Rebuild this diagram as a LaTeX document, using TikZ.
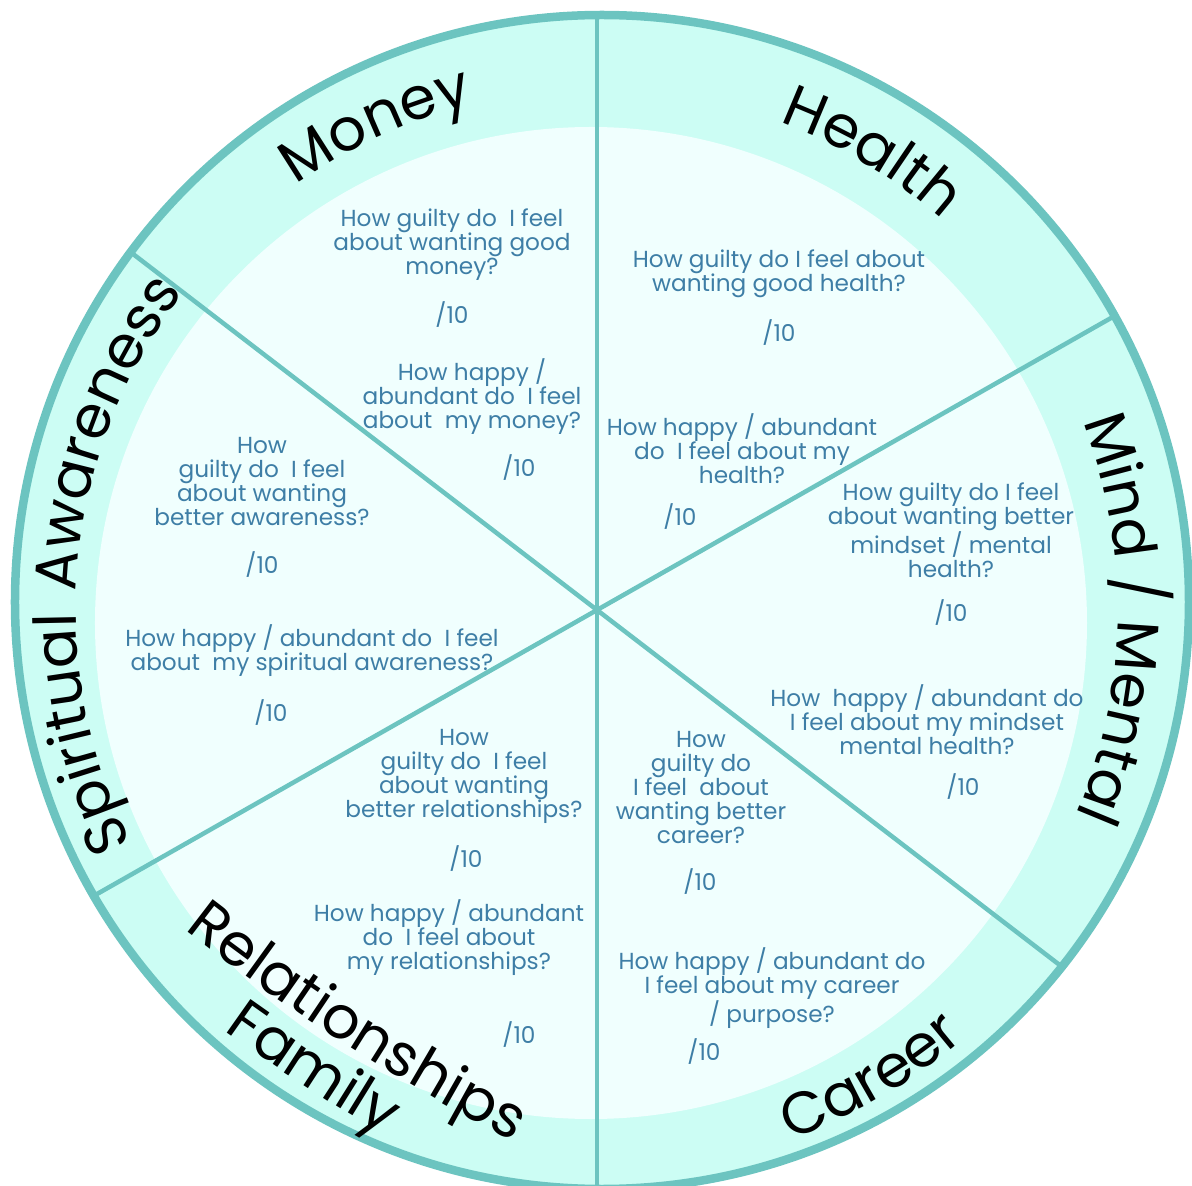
\documentclass[tikz,border=0pt]{standalone}
\usepackage{fontspec}
\setmainfont{Poppins}
\usepackage{tikz}
\usetikzlibrary{decorations.text, positioning, calc}

\definecolor{rimteal}{RGB}{108,196,192}
\definecolor{ringmint}{RGB}{204,253,244}
\definecolor{discpale}{RGB}{240,255,254}
\definecolor{askblue}{RGB}{62,126,166}

\newcommand{\askfont}{\fontsize{23.2}{24}\selectfont}
\newcommand{\areafont}{\fontsize{59}{59}\selectfont}

\tikzset{
  ask/.style={text=askblue, align=center, font=\askfont, inner sep=0pt},
  score/.style={text=askblue, font=\askfont, inner sep=0pt},
  spoke/.style={draw=rimteal, line width=4.5pt},
  area/.style={decorate, decoration={text along path, text align=center, text={|\areafont|#1}}},
}

\begin{document}
\begin{tikzpicture}[x=1pt, y=1pt]
	\useasboundingbox (-597,-576) rectangle (595,610);
	\coordinate (hub)   at (0, 0);
	\coordinate (rimc)  at (5, 8);
	\coordinate (discc) at (-6, -13);
	\coordinate (bendc) at (935, 1410);

	% ring and inner disc
	\fill[ringmint] (rimc) circle (587);
	\fill[discpale] (discc) circle (496);

	% six spokes
	\begin{scope}
		\clip (rimc) circle (587);
		\draw[spoke] (90:700) -- (270:700);
		\draw[spoke] (29.6:700) -- (209.6:700);
		\draw[spoke] (142.5:700) -- (-37.5:700);
	\end{scope}
	\draw[rimteal, line width=8.5pt] (rimc) circle (587);

	% area names on the ring
	\path[area=Money]     (hub) ++(140:521) arc[start angle=140, end angle=89, radius=521];
	\path[area=Health]    (hub) ++(85:521) arc[start angle=85, end angle=33, radius=521];
	\path[area={Mind / Mental}] (hub) ++(28:521) arc[start angle=28, end angle=-30, radius=521];
	\path[area=Spiritual] (hub) ++(215:521) arc[start angle=215, end angle=172, radius=521];
	\path[area=Awareness] (hub) ++(185:521) arc[start angle=185, end angle=135.4, radius=521];
	\path[area=Career]    (hub) ++(275:564) arc[start angle=275, end angle=325.6, radius=564];
	\path[area=Relationships] (bendc) ++(230:2193) arc[start angle=230, end angle=244.4, radius=2193];
	\path[area=Family]    (bendc) ++(229.9:2250) arc[start angle=229.9, end angle=243.9, radius=2250];

	% questions and scores
	\node[ask] (moneyGuilt) at (-145, 365) {How guilty do~ I feel\\about wanting good\\money?};
	\node[score] (moneyGuiltScore) at (-145, 295) {/10};
	\node[ask] (moneyHappy) at (-125, 213) {How happy /\\abundant do~ I feel\\about~ my money?};
	\node[score] (moneyHappyScore) at (-78, 142) {/10};

	\node[ask] (healthGuilt) at (182, 336) {How guilty do I feel about\\wanting good health?};
	\node[score] (healthGuiltScore) at (182, 277) {/10};
	\node[ask] (healthHappy) at (145, 161) {How happy / abundant\\do~ I feel about my\\health?};
	\node[score] (healthHappyScore) at (83, 93) {/10};

	\node[ask] (mindGuilt) at (354, 80) {How guilty do I feel\\about wanting better\\mindset / mental\\health?};
	\node[score] (mindGuiltScore) at (354, -3) {/10};
	\node[ask] (mindHappy) at (330, -110) {How~ happy / abundant do\\I feel about my mindset\\mental health?};
	\node[score] (mindHappyScore) at (366, -177) {/10};

	\node[ask] (careerGuilt) at (104, -178) {How\\guilty do\\I feel~ about\\wanting better\\career?};
	\node[score] (careerGuiltScore) at (103, -272) {/10};
	\node[ask] (careerHappy) at (175, -378) {How happy / abundant do\\I feel about my career\\/ purpose?};
	\node[score] (careerHappyScore) at (107, -442) {/10};

	\node[ask] (relGuilt) at (-133, -166) {How\\guilty do~ I feel\\about wanting\\better relationships?};
	\node[score] (relGuiltScore) at (-131, -249) {/10};
	\node[ask] (relHappy) at (-148, -328) {How happy / abundant\\do~ I feel about\\my relationships?};
	\node[score] (relHappyScore) at (-78, -425) {/10};

	\node[ask] (spiritGuilt) at (-335, 128) {How\\guilty do~ I feel\\about wanting\\better awareness?};
	\node[score] (spiritGuiltScore) at (-335, 45) {/10};
	\node[ask] (spiritHappy) at (-285, -41) {How happy / abundant do~ I feel\\about~ my spiritual awareness?};
	\node[score] (spiritHappyScore) at (-326, -103) {/10};
\end{tikzpicture}
\end{document}
